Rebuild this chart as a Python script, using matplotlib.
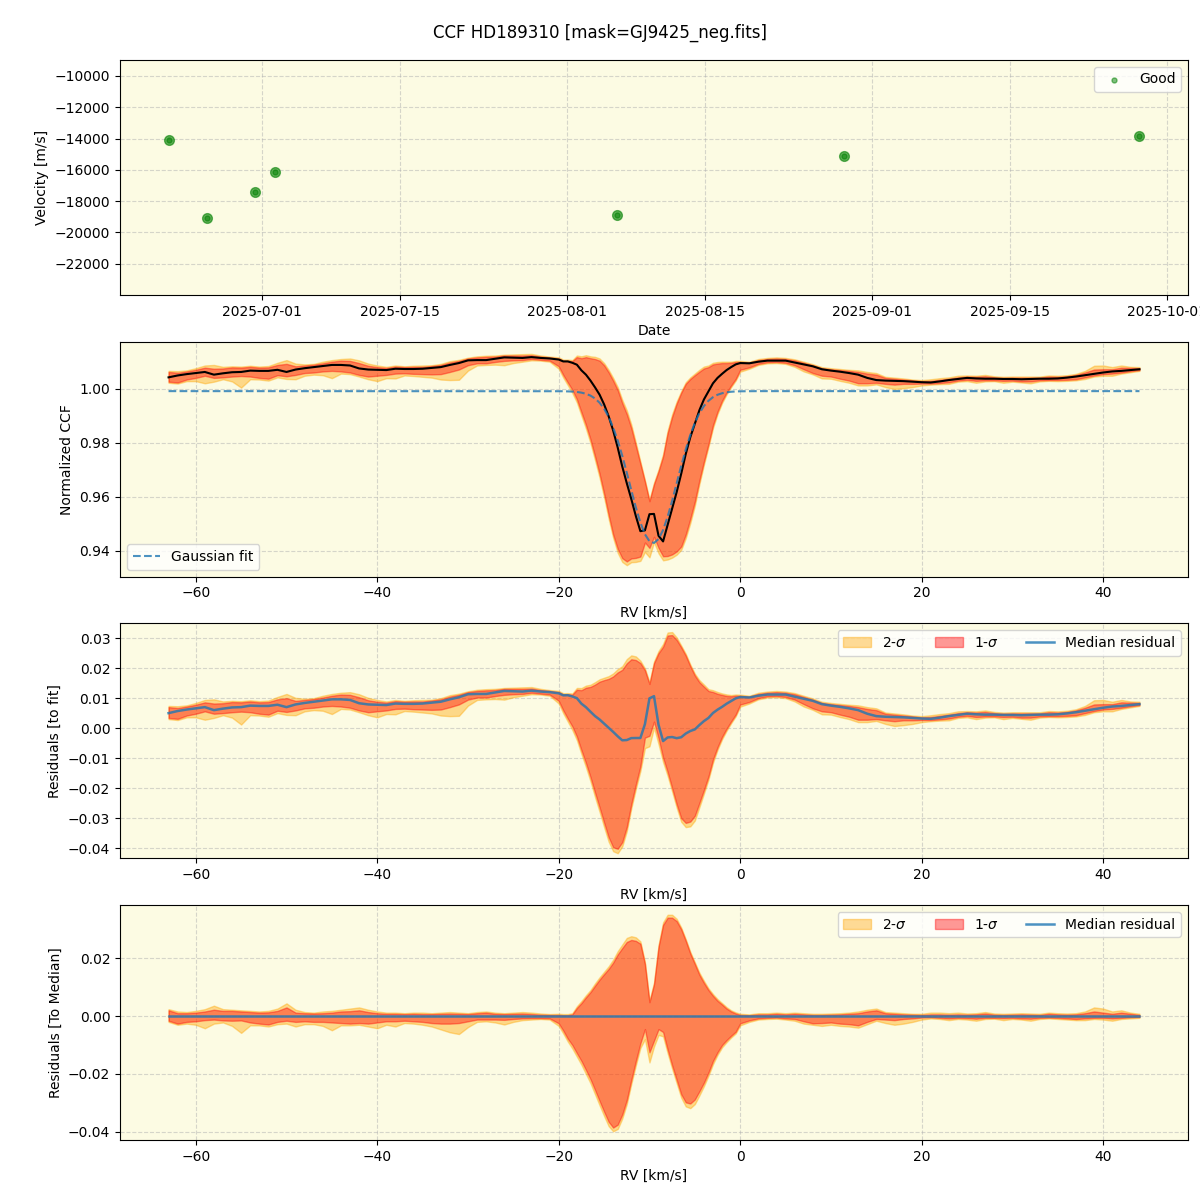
import numpy as np
import pandas as pd
import matplotlib
matplotlib.use("Agg")
import matplotlib.pyplot as plt
import matplotlib.dates as mdates

# ---------------------------------------------------------------------------
# Data

# RV time series (top panel)
obs_dates = pd.to_datetime([
    "2025-06-21 12:00", "2025-06-25 10:00", "2025-06-30 07:00", "2025-07-02 07:00",
    "2025-08-06 02:00", "2025-08-29 05:00", "2025-09-28 05:00",
])
obs_vrad = np.array([-14085, -19064, -17404, -16128, -18894, -15106, -13830])

# CCF velocity grid [km/s]: 1 km/s steps, 0.5 km/s across the line
rv = np.concatenate([np.arange(-63, -20), np.arange(-20, 0.5, 0.5), np.arange(1, 45)])

# Median normalised CCF
ccf_median = np.array([
    # -63 .. -21
    1.0042, 1.0049, 1.0054, 1.0058, 1.0062, 1.0052, 1.0057, 1.0061, 1.0062, 1.0067,
    1.0066, 1.0066, 1.0070, 1.0062, 1.0071, 1.0076, 1.0080, 1.0084, 1.0088, 1.0088,
    1.0086, 1.0075, 1.0071, 1.0070, 1.0069, 1.0074, 1.0073, 1.0073, 1.0074, 1.0077,
    1.0080, 1.0088, 1.0095, 1.0105, 1.0106, 1.0106, 1.0111, 1.0116, 1.0115, 1.0114,
    1.0117, 1.0114, 1.0112,
    # -20 .. 0
    1.0108, 1.0101, 1.0101, 1.0096, 1.0089, 1.0068, 1.0052, 1.0030, 1.0005, 0.9978,
    0.9942, 0.9898, 0.9845, 0.9782, 0.9712, 0.9650, 0.9591, 0.9528, 0.9472, 0.9475,
    0.9535, 0.9536, 0.9455, 0.9434, 0.9495, 0.9556, 0.9617, 0.9685, 0.9758, 0.9820,
    0.9870, 0.9920, 0.9960, 0.9990, 1.0020, 1.0040, 1.0055, 1.0069, 1.0080, 1.0090,
    1.0095,
    # 1 .. 44
    1.0094, 1.0100, 1.0104, 1.0104, 1.0104, 1.0097, 1.0090, 1.0083, 1.0072, 1.0067,
    1.0063, 1.0058, 1.0052, 1.0040, 1.0032, 1.0030, 1.0029, 1.0028, 1.0026, 1.0024,
    1.0023, 1.0027, 1.0032, 1.0036, 1.0040, 1.0038, 1.0037, 1.0037, 1.0036, 1.0036,
    1.0035, 1.0036, 1.0037, 1.0037, 1.0038, 1.0041, 1.0045, 1.0050, 1.0055, 1.0060,
    1.0064, 1.0066, 1.0069, 1.0072,
])

# Percentile bands relative to the median, in units of 1e-3
hi2_e3 = np.array([
    2.4, 1.6, 1.4, 1.8, 2.4, 3.6, 2.4, 2.2, 2.0, 1.8,
    1.6, 1.8, 2.6, 4.4, 2.2, 1.4, 1.2, 1.6, 1.8, 2.2,
    2.6, 3.0, 2.2, 1.6, 1.2, 1.2, 1.0, 1.2, 1.2, 1.0,
    1.2, 1.4, 1.2, 1.0, 1.4, 1.6, 1.2, 1.0, 1.2, 1.4,
    1.2, 0.9, 0.7,
    0.8, 0.7, 0.7, 1.0, 3.4, 5.2, 7.2, 9.0, 11.3, 13.4,
    15.3, 17.2, 19.5, 22.4, 24.7, 27.0, 27.6, 27.2, 25.8, 18.6,
    5.4, 11.6, 24.6, 32.4, 35.0, 35.0, 33.6, 30.6, 26.6, 22.2,
    18.6, 15.0, 12.2, 9.6, 7.6, 5.9, 4.5, 3.1, 2.0, 1.3,
    0.8,
    0.6, 1.0, 1.0, 1.2, 1.0, 1.2, 1.0, 0.8, 0.8, 0.9,
    1.0, 1.2, 1.6, 2.2, 2.6, 1.4, 1.2, 1.0, 0.8, 0.8,
    1.2, 1.2, 1.0, 1.2, 0.9, 1.0, 1.4, 0.9, 0.8, 0.9,
    1.0, 0.9, 0.8, 1.2, 1.0, 0.9, 1.0, 1.6, 3.0, 2.6,
    1.6, 2.0, 1.2, 0.8,
])
hi1_e3 = np.array([
    2.0, 1.0, 1.0, 1.2, 1.6, 2.2, 1.8, 1.8, 1.6, 1.4,
    1.2, 1.3, 1.8, 3.0, 1.2, 1.0, 0.9, 1.0, 1.2, 1.6,
    1.7, 2.0, 1.4, 1.0, 0.8, 0.8, 0.7, 0.8, 0.7, 0.7,
    0.8, 0.9, 0.8, 0.7, 1.0, 1.2, 0.8, 0.7, 0.8, 0.9,
    0.7, 0.5, 0.4,
    0.4, 0.3, 0.3, 0.6, 2.8, 4.5, 6.5, 8.3, 10.5, 12.6,
    14.5, 16.3, 18.5, 21.3, 23.5, 25.6, 26.3, 26.0, 25.0, 18.0,
    4.8, 11.0, 23.9, 31.5, 34.0, 34.0, 32.8, 30.0, 26.0, 21.6,
    18.0, 14.3, 11.5, 9.0, 7.0, 5.3, 4.0, 2.6, 1.6, 0.9,
    0.4,
    0.3, 0.6, 0.6, 0.8, 0.6, 0.8, 0.6, 0.4, 0.4, 0.5,
    0.6, 0.8, 1.0, 1.6, 2.0, 1.0, 0.8, 0.6, 0.5, 0.4,
    0.6, 0.6, 0.5, 0.6, 0.5, 0.6, 0.9, 0.5, 0.4, 0.5,
    0.6, 0.5, 0.4, 0.8, 0.6, 0.5, 0.6, 1.0, 1.6, 1.2,
    0.8, 1.2, 0.8, 0.4,
])
lo1_e3 = np.array([
    -1.6, -2.6, -2.0, -1.8, -1.4, -1.2, -1.5, -1.6, -1.5, -2.2,
    -2.6, -2.9, -2.0, -1.6, -2.0, -1.8, -2.0, -2.0, -2.2, -2.4,
    -2.6, -2.4, -2.6, -2.2, -1.8, -1.8, -1.6, -1.8, -2.0, -2.4,
    -2.6, -2.6, -2.4, -1.8, -1.2, -1.2, -1.2, -1.3, -1.0, -0.8,
    -0.7, -0.7, -0.8,
    -2.5, -5.0, -7.8, -10.0, -12.8, -15.5, -18.6, -21.8, -25.5, -29.3,
    -33.0, -36.5, -38.5, -37.5, -34.0, -29.0, -22.0, -15.5, -9.4, -4.5,
    -12.5, -8.5, -4.5, -5.5, -11.5, -17.0, -22.0, -27.0, -29.8, -30.2,
    -28.8, -26.0, -23.0, -19.5, -15.5, -12.5, -10.0, -8.3, -6.8, -5.4,
    -2.5,
    -1.5, -0.8, -0.6, -0.5, -0.8, -1.0, -1.8, -2.5, -2.4, -2.2,
    -2.6, -2.8, -3.2, -2.0, -1.0, -1.2, -1.4, -1.0, -0.8, -0.5,
    -0.4, -0.6, -0.8, -0.6, -0.7, -0.9, -0.6, -0.6, -0.7, -0.6,
    -0.8, -0.9, -0.6, -0.5, -0.6, -0.8, -1.0, -0.8, -0.6, -0.6,
    -0.8, -0.6, -0.4, -0.3,
])
lo2_e3 = np.array([
    -2.0, -3.0, -2.6, -3.0, -4.2, -2.6, -2.2, -3.4, -5.8, -3.2,
    -3.2, -3.6, -2.8, -2.6, -3.6, -2.8, -2.8, -3.4, -4.9, -3.2,
    -3.2, -3.0, -3.6, -4.2, -3.0, -3.6, -2.4, -2.6, -3.0, -3.6,
    -4.6, -5.6, -6.2, -3.8, -2.0, -1.8, -2.2, -2.9, -2.0, -1.4,
    -1.2, -1.0, -1.2,
    -3.4, -6.0, -8.8, -11.2, -14.0, -16.8, -20.0, -23.2, -27.0, -30.8,
    -34.5, -38.0, -39.8, -39.0, -35.4, -30.4, -23.4, -17.0, -11.0, -8.0,
    -16.0, -10.5, -6.5, -7.0, -12.8, -18.2, -23.2, -28.2, -31.2, -31.8,
    -30.4, -27.4, -24.2, -20.6, -16.6, -13.4, -10.8, -9.0, -7.4, -6.0,
    -3.2,
    -2.0, -1.2, -1.0, -0.9, -1.2, -1.6, -2.6, -3.0, -3.4, -3.0,
    -3.4, -3.6, -4.0, -2.8, -1.6, -2.4, -3.0, -2.6, -2.0, -1.2,
    -0.8, -1.0, -1.4, -1.0, -1.2, -1.6, -1.0, -0.9, -1.4, -1.0,
    -1.2, -1.6, -1.0, -0.8, -1.0, -1.2, -1.4, -1.4, -1.0, -1.2,
    -1.6, -1.0, -0.8, -0.6,
])

# Gaussian fit parameters
fit_continuum = 0.9991
fit_depth = 0.0563
fit_center = -9.6
fit_sigma = 2.6

# ---------------------------------------------------------------------------

BG = "#fcfbe3"

ccf_fit = fit_continuum - fit_depth * np.exp(-0.5 * ((rv - fit_center) / fit_sigma) ** 2)
band_hi2 = ccf_median + hi2_e3 * 1e-3
band_hi1 = ccf_median + hi1_e3 * 1e-3
band_lo1 = ccf_median + lo1_e3 * 1e-3
band_lo2 = ccf_median + lo2_e3 * 1e-3


def draw_bands(ax, ref, with_labels=False):
    ax.fill_between(rv, band_lo2 - ref, band_hi2 - ref, color="orange", alpha=0.4,
                    label="2-$\\sigma$" if with_labels else None)
    ax.fill_between(rv, band_lo1 - ref, band_hi1 - ref, color="red", alpha=0.4,
                    label="1-$\\sigma$" if with_labels else None)


def style(ax):
    ax.set_facecolor(BG)
    ax.grid(True, linestyle="--", alpha=0.5)
    ax.set_axisbelow(True)


fig, axes = plt.subplots(4, 1, figsize=(12, 12), dpi=100)
fig.subplots_adjust(left=0.1, right=0.99, top=0.95, bottom=0.05, hspace=0.2)
fig.suptitle("CCF HD189310 [mask=GJ9425_neg.fits]", fontsize=12)

# Panel 1: RV time series
ax = axes[0]
style(ax)
ax.errorbar(obs_dates, obs_vrad, fmt="o", color="green", alpha=0.6, ms=7)
ax.scatter(obs_dates, obs_vrad, s=13, color="green", alpha=0.5, label="Good", zorder=3)
ax.set_ylim(-23980, -8980)
ax.set_yticks(np.arange(-22000, -9000, 2000))
ax.xaxis.set_major_locator(mdates.DayLocator(bymonthday=[1, 15]))
ax.xaxis.set_major_formatter(mdates.DateFormatter("%Y-%m-%d"))
ax.set_xlabel("Date")
ax.set_ylabel("Velocity [m/s]")
ax.legend(loc="upper right")

# Panel 2: CCF
ax = axes[1]
style(ax)
draw_bands(ax, 0.0)
ax.plot(rv, ccf_median, color="black", lw=1.5)
ax.plot(rv, ccf_fit, "--", color="tab:blue", alpha=0.8, lw=1.5, label="Gaussian fit")
ax.set_ylim(0.9304, 1.0174)
ax.set_xlabel("RV [km/s]")
ax.set_ylabel("Normalized CCF")
ax.legend(loc="lower left")

# Panel 3: residuals to fit
ax = axes[2]
style(ax)
draw_bands(ax, ccf_fit, with_labels=True)
ax.plot(rv, ccf_median - ccf_fit, color="tab:blue", alpha=0.8, lw=1.8, label="Median residual")
ax.set_ylim(-0.0433, 0.035)
ax.set_xlabel("RV [km/s]")
ax.set_ylabel("Residuals [to fit]")
ax.legend(loc="upper right", ncol=3)

# Panel 4: residuals to median
ax = axes[3]
style(ax)
draw_bands(ax, ccf_median, with_labels=True)
ax.plot(rv, ccf_median - ccf_median, color="tab:blue", alpha=0.8, lw=1.8, label="Median residual")
ax.set_ylim(-0.0428, 0.0383)
ax.set_xlabel("RV [km/s]")
ax.set_ylabel("Residuals [To Median]")
ax.legend(loc="upper right", ncol=3)

fig.savefig("out.png", dpi=100)
